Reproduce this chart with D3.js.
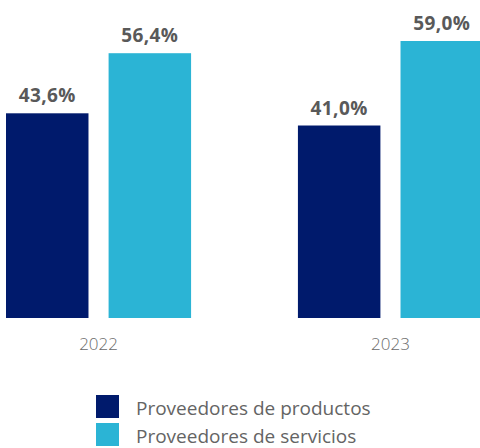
<!DOCTYPE html>
<html>
<head>
<meta charset="utf-8">
<script src="https://cdn.jsdelivr.net/npm/d3@7"></script>
<style>
  html, body { margin: 0; padding: 0; background: #fff; }
  svg { display: block; }
</style>
</head>
<body>
<svg id="chart" width="480" height="448"></svg>
<script>
// Chart data
const years = ["2022", "2023"];
const seriesNames = ["Proveedores de productos", "Proveedores de servicios"];
const productos = [43.6, 41.0];
const servicios = [56.4, 59.0];
const seriesColors = ["#001a6c", "#2bb4d5"];

const svg = d3.select("#chart");
const fmt = v => d3.format(".1f")(v).replace(".", ",") + "%";

const rows = years.map((y, i) => ({ year: y, values: [productos[i], servicios[i]] }));

const x0 = d3.scaleBand().domain(years).range([6, 483]).paddingInner(0.366);
const x1 = d3.scaleBand().domain(d3.range(seriesNames.length)).range([0, x0.bandwidth()]).paddingInner(0.196);
const y = d3.scaleLinear().domain([0, 59]).range([318, 41]);

const groups = svg.selectAll("g.year")
  .data(rows)
  .join("g")
  .attr("class", "year")
  .attr("transform", d => `translate(${x0(d.year)},0)`);

groups.selectAll("rect")
  .data(d => d.values.map((v, i) => ({ v, i })))
  .join("rect")
  .attr("x", d => x1(d.i))
  .attr("y", d => y(d.v))
  .attr("width", x1.bandwidth())
  .attr("height", d => y(0) - y(d.v))
  .attr("fill", d => seriesColors[d.i]);

groups.selectAll("text.value")
  .data(d => d.values.map((v, i) => ({ v, i })))
  .join("text")
  .attr("class", "value")
  .attr("x", d => x1(d.i) + x1.bandwidth() / 2)
  .attr("y", d => y(d.v) - 11)
  .attr("text-anchor", "middle")
  .attr("font-family", "'Open Sans', sans-serif")
  .attr("font-weight", 700)
  .attr("font-size", 19)
  .attr("letter-spacing", 0.4)
  .attr("fill", "#595959")
  .text(d => fmt(d.v));

// Category axis labels
const xAxis = d3.axisBottom(x0).tickSize(0).tickPadding(20);
const axisG = svg.append("g").attr("transform", `translate(0,${y(0)})`).call(xAxis);
axisG.select(".domain").remove();
axisG.selectAll("text")
  .attr("font-family", "'Open Sans', sans-serif")
  .attr("font-weight", 300)
  .attr("font-size", 17)
  .attr("fill", "#6a6a6a");

// Legend
const legend = svg.append("g").attr("transform", "translate(96,395)");
const items = legend.selectAll("g")
  .data(seriesNames)
  .join("g")
  .attr("transform", (d, i) => `translate(0,${i * 28})`);
items.append("rect")
  .attr("width", 23).attr("height", 23)
  .attr("fill", (d, i) => seriesColors[i]);
items.append("text")
  .attr("x", 40).attr("y", 20)
  .attr("font-family", "'Open Sans', sans-serif")
  .attr("font-size", 19)
  .attr("fill", "#646464")
  .text(d => d);
</script>
</body>
</html>
